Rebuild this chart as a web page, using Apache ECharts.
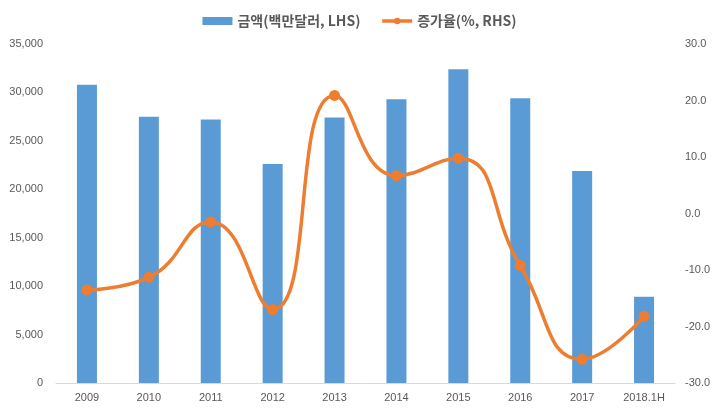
<!DOCTYPE html>
<html>
<head>
<meta charset="utf-8">
<script src="https://cdn.jsdelivr.net/npm/echarts@6/dist/echarts.min.js"></script>
<style>html,body{margin:0;padding:0;background:#fff;}#c{width:719px;height:415px;}</style>
</head>
<body>
<div id="c"></div>
<script>
const categories = ['2009','2010','2011','2012','2013','2014','2015','2016','2017','2018.1H'];
const amount = [30800, 27500, 27200, 22600, 27400, 29300, 32400, 29400, 21900, 8900];
const growth = [-13.5, -11.3, -1.5, -17.0, 20.9, 6.7, 9.8, -9.2, -25.8, -18.2];
const amountName = '금액(백만달러, LHS)';
const growthName = '증가율(%, RHS)';

const chart = echarts.init(document.getElementById('c'), null, {renderer: 'canvas'});
const labelFont = {color: '#595959', fontSize: 11, fontFamily: 'Liberation Sans, Arial, sans-serif'};
chart.setOption({
  animation: false,
  legend: {
    top: 9,
    left: 'center',
    itemGap: 20,
    itemWidth: 30,
    itemHeight: 8,
    textStyle: {color: '#595959', fontSize: 14, fontWeight: 'bold', fontFamily: 'Noto Sans CJK KR, sans-serif'},
    data: [
      {name: amountName, icon: 'rect'},
      {name: growthName, lineStyle: {width: 3.5, color: '#ED7D31'}}
    ]
  },
  grid: {left: 56, right: 44, top: 44, bottom: 32, containLabel: false},
  xAxis: {
    type: 'category',
    data: categories,
    axisLine: {lineStyle: {color: '#d9d9d9'}},
    axisTick: {show: false},
    axisLabel: Object.assign({margin: 9}, labelFont)
  },
  yAxis: [{
    type: 'value', min: 0, max: 35000, interval: 5000,
    splitLine: {show: false},
    axisLine: {show: false}, axisTick: {show: false},
    axisLabel: Object.assign({margin: 13, formatter: v => v.toLocaleString('en-US')}, labelFont)
  }, {
    type: 'value', min: -30, max: 30, interval: 10,
    splitLine: {show: false},
    axisLine: {show: false}, axisTick: {show: false},
    axisLabel: Object.assign({margin: 10, formatter: v => v.toFixed(1)}, labelFont)
  }],
  series: [{
    name: amountName,
    type: 'bar',
    data: amount,
    barWidth: 20,
    itemStyle: {color: '#5B9BD5'}
  }, {
    name: growthName,
    type: 'line',
    yAxisIndex: 1,
    data: growth,
    smooth: 0.5,
    symbol: 'circle',
    symbolSize: 11,
    lineStyle: {color: '#ED7D31', width: 3.5},
    itemStyle: {color: '#ED7D31'}
  }]
});
</script>
</body>
</html>
